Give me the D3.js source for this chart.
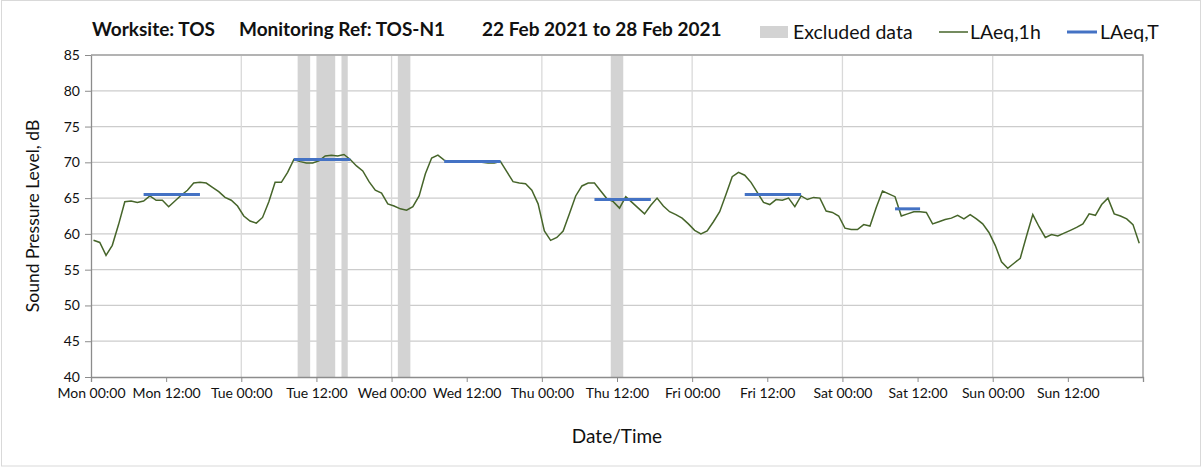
<!DOCTYPE html>
<html>
<head>
<meta charset="utf-8">
<script src="https://cdn.jsdelivr.net/npm/d3@7"></script>
<style>
  body { margin: 0; background: #fff; }
  text { font-family: Lato, "Open Sans", sans-serif; fill: #111; }
</style>
</head>
<body>
<svg id="chart"></svg>
<script>
// hourly LAeq,1h values, Mon 00:00 .. Sun 23:00
var laeq1h = [
  59.1, 58.8, 57.0, 58.4, 61.3, 64.5, 64.6, 64.4, 64.6, 65.3, 64.7, 64.7,
  63.8, 64.6, 65.4, 66.1, 67.1, 67.2, 67.1, 66.5, 65.9, 65.1, 64.7, 63.9,
  62.5, 61.8, 61.5, 62.3, 64.5, 67.2, 67.2, 68.6, 70.4, 70.1, 69.9, 69.9,
  70.2, 70.9, 71.0, 70.9, 71.1, 70.4, 69.5, 68.8, 67.3, 66.1, 65.7, 64.2,
  63.9, 63.5, 63.3, 63.8, 65.3, 68.4, 70.6, 71.0, 70.3, 70.0, 70.0, 70.0,
  70.0, 70.0, 70.0, 69.9, 69.9, 70.1, 68.7, 67.3, 67.1, 67.0, 66.1, 64.2,
  60.4, 59.1, 59.5, 60.4, 62.8, 65.3, 66.7, 67.1, 67.1, 66.0, 64.9, 64.5,
  63.6, 65.2, 64.4, 63.6, 62.8, 64.0, 65.0, 63.9, 63.1, 62.7, 62.2, 61.4,
  60.5, 60.0, 60.4, 61.7, 63.1, 65.5, 68.0, 68.6, 68.2, 67.2, 65.8, 64.4,
  64.1, 64.8, 64.7, 65.0, 63.8, 65.3, 64.8, 65.1, 65.0, 63.2, 63.0, 62.5,
  60.8, 60.6, 60.6, 61.3, 61.1, 63.7, 66.0, 65.6, 65.2, 62.5, 62.8, 63.1,
  63.1, 63.0, 61.4, 61.7, 62.0, 62.2, 62.6, 62.1, 62.7, 62.1, 61.4, 60.2,
  58.4, 56.1, 55.2, 55.9, 56.6, 59.7, 62.7, 61.0, 59.5, 59.9, 59.7, 60.1,
  60.5, 60.9, 61.4, 62.8, 62.6, 64.1, 65.0, 62.8, 62.5, 62.1, 61.3, 58.7
];

// LAeq,T periods (hour index from Mon 00:00)
var periodStart = [8, 32, 56, 80, 104, 128];
var periodEnd   = [17, 41, 65, 89, 113, 132];
var periodLevel = [65.5, 70.4, 70.1, 64.8, 65.5, 63.5];

// excluded data (hour index)
var exclStart = [33, 36, 40, 49, 83];
var exclEnd   = [35, 39, 41, 51, 85];

var tickHours = [0, 12, 24, 36, 48, 60, 72, 84, 96, 108, 120, 132, 144, 156, 168];
var tickLabels = ["Mon 00:00", "Mon 12:00", "Tue 00:00", "Tue 12:00", "Wed 00:00", "Wed 12:00",
  "Thu 00:00", "Thu 12:00", "Fri 00:00", "Fri 12:00", "Sat 00:00", "Sat 12:00",
  "Sun 00:00", "Sun 12:00", ""];
var yTicks = [40, 45, 50, 55, 60, 65, 70, 75, 80, 85];

var W = 1203, H = 470;
var pL = 91, pR = 1143, pT = 55, pB = 377;
var ptOffset = 0.4; // hourly values sit just after the hour mark

var svg = d3.select("#chart").attr("width", W).attr("height", H);

svg.append("rect")
  .attr("x", 1.5).attr("y", 0.5).attr("width", 1199).attr("height", 465.5)
  .attr("fill", "#fff").attr("stroke", "#d9d9d9");

var x = d3.scaleLinear().domain([0, 168]).range([pL, pR]);
var y = d3.scaleLinear().domain([40, 85]).range([pB, pT]);

// horizontal grid
svg.append("g").selectAll("line")
  .data(yTicks.slice(1))
  .enter().append("line")
  .attr("x1", pL).attr("x2", pR)
  .attr("y1", function(d) { return y(d); })
  .attr("y2", function(d) { return y(d); })
  .attr("stroke", "#cccccc").attr("stroke-width", 1.3);

// vertical grid, each day
svg.append("g").selectAll("line")
  .data(tickHours.filter(function(h) { return h > 0 && h % 24 == 0; }))
  .enter().append("line")
  .attr("x1", function(d) { return x(d); })
  .attr("x2", function(d) { return x(d); })
  .attr("y1", pT).attr("y2", pB)
  .attr("stroke", "#d9d9d9").attr("stroke-width", 1.3);

// excluded bands
svg.append("g").selectAll("rect")
  .data(exclStart)
  .enter().append("rect")
  .attr("x", function(d) { return x(d); })
  .attr("width", function(d, i) { return x(exclEnd[i]) - x(d); })
  .attr("y", pT).attr("height", pB - pT)
  .attr("fill", "#d3d3d3");

// frame top/right
svg.append("path")
  .attr("d", "M" + pL + "," + pT + "H" + pR + "V" + pB)
  .attr("fill", "none").attr("stroke", "#a6a6a6").attr("stroke-width", 1.3);

// axes
var xAxis = d3.axisBottom(x).tickValues(tickHours)
  .tickFormat(function(d, i) { return tickLabels[i]; })
  .tickSize(5).tickPadding(6);
var gx = svg.append("g").attr("transform", "translate(0," + pB + ")").call(xAxis);
gx.select(".domain").attr("stroke", "#8c8c8c").attr("stroke-width", 1.3);
gx.selectAll(".tick line").attr("stroke", "#8c8c8c");
gx.selectAll("text").style("font-size", "14px").attr("fill", "#111");

var yAxis = d3.axisLeft(y).tickValues(yTicks).tickSize(6).tickPadding(5).tickSizeOuter(0);
var gy = svg.append("g").attr("transform", "translate(" + pL + ",0)").call(yAxis);
gy.select(".domain").attr("stroke", "#8c8c8c").attr("stroke-width", 1.3);
gy.selectAll(".tick line").attr("stroke", "#8c8c8c");
gy.selectAll("text").style("font-size", "14px").attr("fill", "#111");

// LAeq,1h line
var line = d3.line()
  .x(function(d, i) { return x(i + ptOffset); })
  .y(function(d) { return y(d); });
svg.append("path")
  .datum(laeq1h)
  .attr("d", line)
  .attr("fill", "none").attr("stroke", "#46652a").attr("stroke-width", 1.5);

// LAeq,T
svg.append("g").selectAll("line")
  .data(periodLevel)
  .enter().append("line")
  .attr("x1", function(d, i) { return x(periodStart[i] + ptOffset); })
  .attr("x2", function(d, i) { return x(periodEnd[i] + ptOffset); })
  .attr("y1", function(d) { return y(d); })
  .attr("y2", function(d) { return y(d); })
  .attr("stroke", "#4472c4").attr("stroke-width", 3);

// titles
var title = svg.append("g").style("font-weight", "bold").style("font-size", "19px");
title.append("text").attr("x", 92).attr("y", 36).text("Worksite: TOS");
title.append("text").attr("x", 239).attr("y", 36).text("Monitoring Ref: TOS-N1");
title.append("text").attr("x", 482).attr("y", 36).text("22 Feb 2021 to 28 Feb 2021");

// legend
var lg = svg.append("g").style("font-size", "19.5px");
lg.append("rect").attr("x", 760).attr("y", 26).attr("width", 28).attr("height", 12).attr("fill", "#d3d3d3");
lg.append("text").attr("x", 793).attr("y", 39).text("Excluded data");
lg.append("line").attr("x1", 939).attr("x2", 968).attr("y1", 32).attr("y2", 32)
  .attr("stroke", "#46652a").attr("stroke-width", 1.5);
lg.append("text").attr("x", 970).attr("y", 39).text("LAeq,1h");
lg.append("line").attr("x1", 1067).attr("x2", 1097).attr("y1", 32).attr("y2", 32)
  .attr("stroke", "#4472c4").attr("stroke-width", 3);
lg.append("text").attr("x", 1100).attr("y", 39).text("LAeq,T");

// axis titles
svg.append("text")
  .attr("transform", "translate(39," + ((pT + pB) / 2) + ") rotate(-90)")
  .attr("text-anchor", "middle").style("font-size", "17.5px")
  .text("Sound Pressure Level, dB");
svg.append("text")
  .attr("x", (pL + pR) / 2).attr("y", 443)
  .attr("text-anchor", "middle").style("font-size", "19px")
  .text("Date/Time");
</script>
</body>
</html>
